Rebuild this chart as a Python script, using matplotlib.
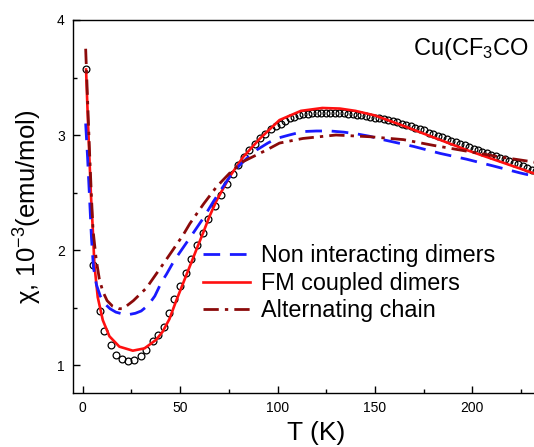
# Magnetic susceptibility of the Cu dimer compound vs temperature:
# measured points and three model fits.

import numpy as np
import matplotlib.pyplot as plt

plt.rcParams['font.family'] = ['Liberation Sans', 'DejaVu Sans']
plt.rcParams['mathtext.fontset'] = 'custom'
plt.rcParams['mathtext.rm'] = 'Liberation Sans'
plt.rcParams['mathtext.it'] = 'Liberation Sans:italic'

# measured data (open circles)
T_exp = [1.7, 5.5, 8.9, 11.1, 14.5, 17.1, 20.2, 23.1, 26.5, 30.0, 32.5, 36.0,
         38.5, 41.5, 44.2, 46.8, 49.7, 52.8, 55.7, 58.7, 61.5, 64.4, 67.8, 70.8,
         74.2, 77.0, 79.8, 82.6, 85.4, 88.2, 91.0, 93.8, 96.6, 99.4,
         101.7, 104.0, 106.3, 108.6, 110.9, 113.2, 115.5, 117.8, 120.1, 122.4,
         124.7, 127.0, 129.3, 131.6, 133.9, 136.2, 138.5, 140.8, 143.1, 145.4,
         147.7, 150.0, 152.3, 154.6, 156.9, 159.2, 161.5, 163.8, 166.1, 168.4,
         170.7, 173.0, 175.3, 177.6, 179.9, 182.2, 184.5, 186.8, 189.1, 191.4,
         193.7, 196.0, 198.3, 200.6, 202.9, 205.2, 207.5, 209.8, 212.1, 214.4,
         216.7, 219.0, 221.3, 223.6, 225.9, 228.2, 230.5, 232.8]
chi_exp = [3.57, 1.87, 1.47, 1.30, 1.17, 1.09, 1.05, 1.035, 1.04, 1.08, 1.13, 1.21,
           1.26, 1.33, 1.45, 1.57, 1.69, 1.80, 1.92, 2.04, 2.15, 2.27, 2.38, 2.48,
           2.57, 2.66, 2.74, 2.81, 2.87, 2.92, 2.97, 3.01, 3.05, 3.08,
           3.10, 3.12, 3.145, 3.16, 3.17, 3.18, 3.185, 3.19, 3.19, 3.19,
           3.19, 3.19, 3.19, 3.19, 3.19, 3.185, 3.18, 3.175, 3.17, 3.165,
           3.16, 3.15, 3.145, 3.135, 3.13, 3.12, 3.11, 3.10, 3.09, 3.08,
           3.065, 3.05, 3.04, 3.02, 3.01, 2.995, 2.98, 2.965, 2.95, 2.94,
           2.925, 2.91, 2.895, 2.88, 2.87, 2.855, 2.84, 2.83, 2.815, 2.80,
           2.79, 2.775, 2.76, 2.745, 2.73, 2.715, 2.70, 2.69]

# Non interacting dimers (blue dashed)
T_nid = [1.5, 2.5, 3.5, 4.5, 5.5, 7, 9, 11.5, 14, 17, 22.4, 27, 30, 33.6, 37,
         40.4, 43, 47, 51.5, 57.6, 62, 67, 72, 76, 80.7, 85, 89.3, 95, 99.5,
         106, 113, 120, 127, 134, 140.6, 147, 154, 162, 170, 183.5, 197, 211,
         224.6, 240]
chi_nid = [3.10, 2.80, 2.45, 2.10, 1.85, 1.70, 1.60, 1.53, 1.49, 1.46, 1.435,
           1.45, 1.47, 1.52, 1.60, 1.72, 1.79, 1.91, 2.02, 2.17, 2.28, 2.42,
           2.55, 2.65, 2.74, 2.81, 2.87, 2.93, 2.97, 3.00, 3.03, 3.035, 3.035,
           3.025, 3.01, 2.99, 2.96, 2.93, 2.90, 2.84, 2.79, 2.73, 2.67, 2.61]

# FM coupled dimers (red solid)
T_fm = [1.7, 2.5, 3.3, 4.3, 5.1, 6.0, 7.7, 10.3, 13.7, 18.8, 25.7, 31.7, 37.7,
        41.0, 44.5, 48.0, 51.5, 55.0, 58.5, 61.8, 65.0, 68.7, 75.5, 82.4, 91.0,
        101, 112, 123, 132, 140, 150, 163, 180, 197, 214, 231, 240]
chi_fm = [3.57, 3.20, 2.85, 2.45, 2.20, 1.87, 1.59, 1.39, 1.25, 1.16, 1.125,
          1.145, 1.22, 1.29, 1.40, 1.56, 1.71, 1.86, 2.01, 2.15, 2.29, 2.43,
          2.64, 2.81, 2.97, 3.13, 3.21, 3.235, 3.23, 3.21, 3.17, 3.09, 2.98,
          2.87, 2.77, 2.67, 2.62]

# Alternating chain (dark red dash-dot)
T_alt = [1.5, 2.5, 3.5, 4.5, 5.3, 6.9, 8.5, 10.3, 12.5, 15.4, 18.5, 20.7, 26,
         32.7, 43, 51.5, 55, 62, 68.7, 75.5, 82.4, 94.4, 101, 113, 130, 147.5,
         164.6, 180, 197, 214, 229.7, 240]
chi_alt = [3.75, 3.30, 2.85, 2.45, 2.17, 1.92, 1.75, 1.64, 1.56, 1.51, 1.49,
           1.49, 1.56, 1.67, 1.92, 2.13, 2.23, 2.40, 2.55, 2.67, 2.77, 2.87,
           2.93, 2.97, 3.00, 2.985, 2.96, 2.91, 2.86, 2.81, 2.77, 2.74]

labels = ['Non interacting dimers', 'FM coupled dimers', 'Alternating chain']

fig = plt.figure(figsize=(5.34, 4.47), dpi=100)
W, H = 534.0, 447.0
# axes box runs past the right edge of the picture (cropped figure)
ax = fig.add_axes([73 / W, (H - 393) / H, 487 / W, 373 / H])

ax.plot(T_exp, chi_exp, 'o', mfc='none', mec='black', ms=4.9, mew=0.9,
        zorder=2)
l_fm, = ax.plot(T_fm, chi_fm, '-', color='#ff1010', lw=1.9, zorder=3)
l_nid, = ax.plot(T_nid, chi_nid, color='#1a1aff', lw=2.0, zorder=4,
                 dashes=(6, 3.5))
l_alt, = ax.plot(T_alt, chi_alt, color='#8b0a0a', lw=2.0, zorder=5,
                 dashes=(5.5, 2.2, 1.2, 2.2))

ax.set_xlim(-5, 245)
ax.set_ylim(0.757, 4.0)
ax.set_xticks([0, 50, 100, 150, 200])
ax.set_xticks([25, 75, 125, 175, 225], minor=True)
ax.set_yticks([1, 2, 3, 4])
ax.set_yticks([1.5, 2.5, 3.5], minor=True)
ax.tick_params(which='both', direction='in', top=False, right=False,
               labelsize=10, width=1.0)
ax.tick_params(which='major', length=5, pad=6)
ax.tick_params(which='minor', length=3)
for s in ax.spines.values():
    s.set_linewidth(1.0)

ax.set_xlabel('T (K)', fontsize=19, labelpad=4)
ax.set_ylabel('χ, 10$^{-3}$(emu/mol)', fontsize=18.5, labelpad=9)

ax.legend([l_nid, l_fm, l_alt], labels, loc='upper left',
          bbox_to_anchor=(203 / W, 1 - 244 / H), bbox_transform=fig.transFigure,
          frameon=False, borderpad=0, borderaxespad=0, handlelength=2.0,
          handletextpad=0.5, labelspacing=0.2, fontsize=16.8)

fig.text(413 / W, 1 - 49 / H, 'Cu(CF$_3$CO', fontsize=17, va='center')

fig.savefig('out.png', dpi=100)
